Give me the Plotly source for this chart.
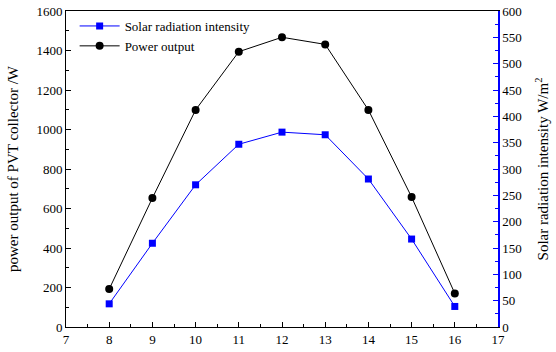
import plotly.graph_objects as go

hours = [8, 9, 10, 11, 12, 13, 14, 15, 16]
power_output = [192, 653, 1099, 1394, 1467, 1431, 1099, 658, 170]
solar_radiation = [44, 159, 270, 347, 370, 365, 281, 167, 39]

SERIF = "Liberation Serif"
font = dict(family=SERIF, size=13, color="black")

fig = go.Figure()
fig.add_trace(go.Scatter(
    x=hours, y=solar_radiation, name="Solar radiation intensity",
    mode="lines+markers", yaxis="y2",
    line=dict(color="#0000ff", width=1),
    marker=dict(symbol="square", size=7, color="#0000ff"),
))
fig.add_trace(go.Scatter(
    x=hours, y=power_output, name="Power output",
    mode="lines+markers", yaxis="y",
    line=dict(color="black", width=1),
    marker=dict(symbol="circle", size=8, color="black"),
))

fig.update_layout(
    width=556, height=352,
    margin=dict(l=66, r=58, t=11, b=25),
    paper_bgcolor="white", plot_bgcolor="white",
    font=font,
    showlegend=True,
    legend=dict(x=0.02, y=1.0, xanchor="left", yanchor="top",
                bgcolor="rgba(0,0,0,0)", font=dict(family=SERIF, size=13),
                tracegroupgap=0, itemwidth=40,
                traceorder="normal"),
    xaxis=dict(range=[7, 17], dtick=1, tick0=7, ticks="inside", ticklen=5,
               showgrid=False, zeroline=False, showline=True, linecolor="black",
               linewidth=1, mirror=True, tickcolor="black", automargin=False,
               tickfont=dict(family=SERIF, size=13),
               minor=dict(dtick=0.5, ticks="inside", ticklen=3, tickcolor="black")),
    yaxis=dict(range=[0, 1600], dtick=200, ticks="inside", ticklen=5,
               showgrid=False, zeroline=False, showline=True, linecolor="black",
               linewidth=1, tickcolor="black", automargin=False,
               tickfont=dict(family=SERIF, size=13),
               title=dict(text="power output of PVT collector /W", standoff=14,
                          font=dict(family=SERIF, size=15)),
               minor=dict(dtick=100, ticks="inside", ticklen=3, tickcolor="black")),
    yaxis2=dict(range=[0, 600], dtick=50, ticks="inside", ticklen=5,
                overlaying="y", side="right", automargin=False,
                showgrid=False, zeroline=False, showline=True, linecolor="#0000ff",
                linewidth=1.5, tickcolor="#0000ff",
                tickfont=dict(family=SERIF, size=13, color="black"),
                title=dict(text="Solar radiation intensity W/m<sup>2</sup>", standoff=17,
                           font=dict(family=SERIF, size=15, color="black")),
                minor=dict(dtick=25, ticks="inside", ticklen=3, tickcolor="#0000ff")),
)

fig.write_html("out.html")
